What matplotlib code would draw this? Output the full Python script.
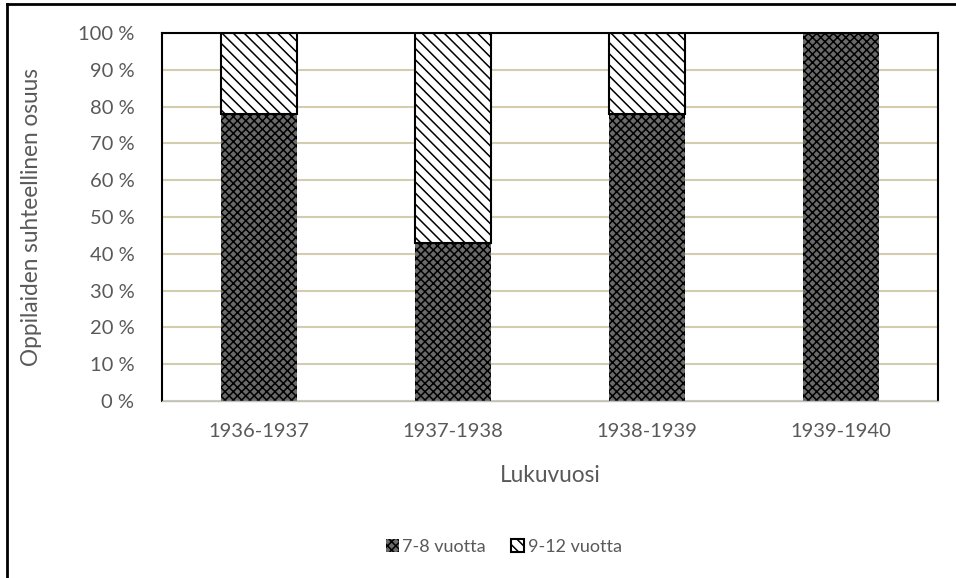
import numpy as np
import matplotlib.pyplot as plt
from matplotlib.lines import Line2D
from matplotlib.ticker import FuncFormatter

years = ["1936-1937", "1937-1938", "1938-1939", "1939-1940"]
age_7_8 = [78, 43, 78, 100]
age_9_12 = [22, 57, 22, 0]

plt.rcParams['font.family'] = ['Lato', 'DejaVu Sans']
plt.rcParams['hatch.linewidth'] = 1.1

fig = plt.figure(figsize=(9.56, 5.78), dpi=100)
ax = fig.add_axes([0.1695, 0.306, 0.8117, 0.637])

x = np.arange(len(years))
width = 0.395

ax.bar(x, age_7_8, width, color="#6a6a6a", edgecolor="black",
       linewidth=0, hatch="xxxx", label="7-8 vuotta", zorder=2)
ax.bar(x, age_9_12, width, bottom=age_7_8, color="white",
       edgecolor="black", linewidth=1.5, hatch="\\\\\\", label="9-12 vuotta",
       zorder=2)

ax.set_ylim(0, 100)
ax.set_xlim(-0.5, len(years) - 0.5)
ax.set_yticks(range(0, 101, 10))
ax.yaxis.set_major_formatter(FuncFormatter(lambda v, p: f"{int(v)} %"))
ax.set_xticks(x)
ax.set_xticklabels(years)
ax.grid(axis="y", color="#d3cdb0", linewidth=1.5, zorder=0)
ax.set_axisbelow(True)

for s in ["left", "right", "top"]:
    ax.spines[s].set_color("black")
    ax.spines[s].set_linewidth(1.5)
ax.spines["bottom"].set_color("#bfbfbf")
ax.spines["bottom"].set_linewidth(1)
ax.tick_params(axis="both", length=0, labelsize=14.5, labelcolor="#595959")
ax.tick_params(axis="x", pad=16)
ax.tick_params(axis="y", pad=20)

ax.set_ylabel("Oppilaiden suhteellinen osuus", fontsize=16.3, color="#595959", labelpad=26)
ax.set_xlabel("Lukuvuosi", fontsize=16.3, color="#595959", labelpad=18)

ax.legend(loc="center", bbox_to_anchor=(0.527, 0.054), bbox_transform=fig.transFigure,
          ncol=2, frameon=False, fontsize=13, handlelength=0.7, handleheight=0.7,
          handletextpad=0.2, columnspacing=1.4, labelcolor="#595959")

# outer chart frame
fig.add_artist(Line2D([0.0073, 0.0073], [0, 0.993], color="black", linewidth=2))
fig.add_artist(Line2D([0.0073, 1], [0.993, 0.993], color="black", linewidth=2))

fig.savefig("out.png", dpi=100)
